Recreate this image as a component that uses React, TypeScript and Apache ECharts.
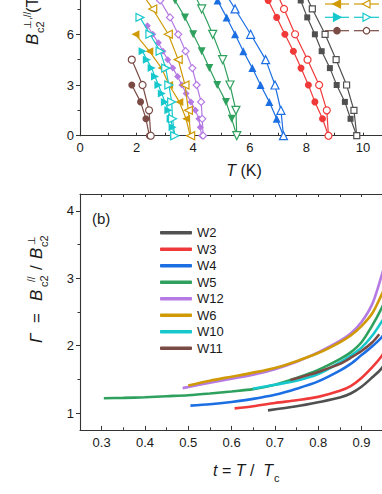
import React, { useEffect, useRef } from 'react';
import * as echarts from 'echarts';

const FONT = "'Liberation Sans', Arial, Helvetica, sans-serif";
const INK = '#1a1a1a';

const C_W2 = '#505050';
const C_W3 = '#f03a3a';
const C_W4 = '#1c6fe3';
const C_W5 = '#2fa15e';
const C_W12 = '#b57ae3';
const C_W6 = '#cf9a06';
const C_W10 = '#16c8cc';
const C_W11 = '#7a4b45';

// ---------- Panel (a): field values (T) ----------
const B_STEP1 = [0, 1, 2, 3, 4, 5, 6, 7, 8, 9];
const B_STEP15 = [0, 1.5, 3, 4.5, 6, 7.5, 9];
const B_STEP05_W12 = [0, 0.5, 1, 1.5, 2, 2.5, 3, 3.5, 4, 4.5, 5, 5.5, 6, 6.5];
const B_W6_PERP = [0, 1, 2, 3, 4, 5, 6];
const B_W10_PERP = [0, 0.5, 1, 1.5, 2, 2.5, 3, 3.5, 4, 4.5, 5];
const B_W10_PARA = [0, 1, 2, 3, 4, 5, 6, 7];
const B_W11_PERP = [0, 1, 2, 3];
const B_W11_PARA = [0, 1.5, 3, 4.5];

// Temperatures (K)
const W2_PERP_T = [9.78, 9.56, 9.36, 9.07, 8.83, 8.54, 8.3, 8.03, 7.8, 7.55];
const W2_PARA_T = [9.78, 9.68, 9.42, 9.05, 8.66, 8.21, 7.78];
const W3_PERP_T = [8.78, 8.57, 8.3, 8.07, 7.81, 7.54, 7.24, 6.95, 6.65, 6.35];
const W3_PARA_T = [8.78, 8.72, 8.45, 8.04, 7.6, 7.21, 6.8];
const W4_PERP_T = [7.19, 6.95, 6.69, 6.38, 6.09, 5.77, 5.48, 5.18, 4.86, 4.55];
const W4_PARA_T = [7.19, 7.1, 6.89, 6.56, 6.03, 5.48, 4.92];
const W5_PERP_T = [5.54, 5.36, 5.16, 4.85, 4.57, 4.3, 4.0, 3.71, 3.36, 3.0];
const W5_PARA_T = [5.54, 5.51, 5.3, 5.04, 4.69, 4.3, 3.85];
const W12_PERP_T = [4.3, 4.25, 4.2, 4.08, 3.92, 3.75, 3.6, 3.45, 3.28, 3.1, 2.93, 2.77, 2.57, 2.38];
const W12_PARA_T = [4.35, 4.32, 4.28, 4.12, 3.97, 3.73, 3.47, 3.18, 2.83, 2.48];
const W6_PERP_T = [3.89, 3.75, 3.51, 3.15, 2.88, 2.45, 1.96];
const W6_PARA_T = [3.91, 3.83, 3.71, 3.47, 3.12, 2.57, 1.95];
const W10_PERP_T = [3.32, 3.27, 3.2, 3.12, 3.0, 2.89, 2.77, 2.65, 2.53, 2.36, 2.21];
const W10_PARA_T = [3.35, 3.27, 3.24, 3.14, 3.03, 2.83, 2.47, 2.12];
const W11_PERP_T = [2.45, 2.33, 2.14, 1.83];
const W11_PARA_T = [2.5, 2.44, 2.21, 1.83];

// ---------- Panel (b): anisotropy Γ vs reduced temperature t ----------
const G_W2 = [[0.684, 1.04], [0.75, 1.1], [0.8, 1.16], [0.85, 1.23], [0.875, 1.29], [0.9, 1.39], [0.925, 1.53], [0.946, 1.66], [0.96, 1.8]];
const G_W3 = [[0.607, 1.07], [0.65, 1.1], [0.7, 1.15], [0.75, 1.19], [0.8, 1.24], [0.85, 1.33], [0.875, 1.4], [0.9, 1.52], [0.925, 1.68], [0.946, 1.84], [0.96, 1.98]];
const G_W4 = [[0.505, 1.11], [0.55, 1.13], [0.6, 1.165], [0.65, 1.21], [0.7, 1.27], [0.75, 1.36], [0.8, 1.47], [0.85, 1.63], [0.875, 1.73], [0.9, 1.86], [0.925, 1.99], [0.946, 2.12], [0.96, 2.25]];
const G_W5 = [[0.305, 1.22], [0.35, 1.225], [0.4, 1.235], [0.45, 1.25], [0.5, 1.265], [0.55, 1.29], [0.6, 1.32], [0.65, 1.355], [0.7, 1.42], [0.75, 1.52], [0.8, 1.64], [0.85, 1.8], [0.875, 1.9], [0.9, 2.05], [0.925, 2.3], [0.946, 2.55], [0.96, 2.75]];
const G_W12 = [[0.487, 1.37], [0.55, 1.45], [0.6, 1.51], [0.65, 1.57], [0.7, 1.65], [0.75, 1.76], [0.8, 1.9], [0.85, 2.07], [0.875, 2.18], [0.9, 2.35], [0.925, 2.62], [0.946, 3.03], [0.96, 3.35]];
const G_W6 = [[0.5, 1.41], [0.55, 1.48], [0.6, 1.54], [0.65, 1.6], [0.7, 1.67], [0.75, 1.77], [0.8, 1.89], [0.85, 2.05], [0.875, 2.15], [0.9, 2.29], [0.925, 2.48], [0.946, 2.75], [0.96, 2.95]];
const G_W10 = [[0.649, 1.36], [0.7, 1.42], [0.75, 1.48], [0.8, 1.58], [0.85, 1.75], [0.875, 1.85], [0.9, 1.97], [0.925, 2.15], [0.946, 2.35], [0.96, 2.5]];
const G_W11 = [[0.736, 1.49], [0.775, 1.56], [0.8, 1.61], [0.85, 1.73], [0.875, 1.82], [0.9, 1.92], [0.925, 2.05], [0.941, 2.17]];

const LEGEND_B = ['W2', 'W3', 'W4', 'W5', 'W12', 'W6', 'W10', 'W11'];

const X_LABELS_B = [0.3, 0.4, 0.5, 0.6, 0.7, 0.8, 0.9];
const X_MAJOR_B = [0.3, 0.4, 0.5, 0.6, 0.7, 0.8, 0.9, 1.0];
const X_MINOR_B = [0.35, 0.45, 0.55, 0.65, 0.75, 0.85, 0.95];
const Y_MAJOR_B = [1, 2, 3, 4];
const Y_MINOR_B = [1.5, 2.5, 3.5];

function topSeries(name: string, T: number[], B: number[], color: string, symbol: string, rotate: number, open: boolean, size: number) {
  return {
    type: 'line',
    name,
    xAxisIndex: 0,
    yAxisIndex: 0,
    data: T.map((t, i) => [t, B[i]]),
    symbol,
    symbolSize: size,
    symbolRotate: rotate,
    showSymbol: true,
    lineStyle: { color, width: 1.2 },
    itemStyle: open ? { color: '#ffffff', borderColor: color, borderWidth: 1.2 } : { color, borderColor: color, borderWidth: 0 },
    z: open ? 3 : 2,
    silent: true,
  };
}

function botSeries(name: string, data: number[][], color: string) {
  return {
    type: 'line',
    name,
    xAxisIndex: 1,
    yAxisIndex: 1,
    data,
    color,
    smooth: 0.3,
    showSymbol: false,
    symbol: 'none',
    lineStyle: { color, width: 2.6 },
    itemStyle: { color },
    silent: true,
  };
}

function marker(shape: string, cx: number, cy: number, color: string, open: boolean) {
  const style = { fill: open ? '#ffffff' : color, stroke: color, lineWidth: 1.2 };
  if (shape === 'circle') return { type: 'circle', shape: { cx, cy, r: 3.2 }, style, z: 10 };
  if (shape === 'left')
    return { type: 'polygon', shape: { points: [[cx - 4, cy], [cx + 3.5, cy - 4], [cx + 3.5, cy + 4]] }, style, z: 10 };
  return { type: 'polygon', shape: { points: [[cx + 4, cy], [cx - 3.5, cy - 4], [cx - 3.5, cy + 4]] }, style, z: 10 };
}

function legendRow(y: number, color: string, shape: string) {
  return [
    { type: 'line', shape: { x1: 325, y1: y, x2: 349, y2: y }, style: { stroke: color, lineWidth: 1.2 }, z: 9 },
    marker(shape, 337, y, color, false),
    { type: 'line', shape: { x1: 354, y1: y, x2: 379, y2: y }, style: { stroke: color, lineWidth: 1.2 }, z: 9 },
    marker(shape, 366.5, y, color, true),
  ];
}

const txt = (text: string, x: number, y: number, size: number, italic = false, extra: any = {}) => ({
  type: 'text',
  x,
  y,
  style: { text, fontSize: size, fontFamily: FONT, fontStyle: italic ? 'italic' : 'normal', fill: INK, align: 'left', verticalAlign: 'middle', ...extra },
});

export default function App() {
  const ref = useRef<HTMLDivElement>(null);
  useEffect(() => {
    document.body.style.margin = '0';
    const chart = echarts.init(ref.current!, null, { renderer: 'svg' });
    const axisLine = { show: true, lineStyle: { color: '#333', width: 1.1 } };
    const labelStyle = { color: INK, fontSize: 13, fontFamily: FONT };

    const option: any = {
      animation: false,
      backgroundColor: '#ffffff',
      grid: [
        { left: 80, top: -16.4, width: 311.3, height: 152.1, outerBoundsMode: 'none', containLabel: false },
        { left: 80, top: 194, width: 324.8, height: 235.9, outerBoundsMode: 'none', containLabel: false },
      ],
      xAxis: [
        {
          type: 'value', gridIndex: 0, min: 0, max: 11, interval: 1, position: 'bottom',
          axisLine, splitLine: { show: false },
          axisTick: { show: true, inside: true, length: 3, lineStyle: { color: '#333' } },
          axisLabel: { ...labelStyle, margin: 5, formatter: (v: number) => (v % 2 === 0 && v <= 10 ? String(v) : '') },
        },
        {
          type: 'value', gridIndex: 1, min: 0.25, max: 1.0, position: 'bottom',
          axisLine, splitLine: { show: false },
          axisTick: { show: true, inside: true, length: 4, customValues: X_MAJOR_B, lineStyle: { color: '#333' } },
          axisLabel: { ...labelStyle, margin: 6, customValues: X_LABELS_B, formatter: (v: number) => v.toFixed(1) },
        },
        {
          type: 'value', gridIndex: 1, min: 0.25, max: 1.0, position: 'bottom',
          axisLine: { show: false }, splitLine: { show: false },
          axisTick: { show: true, inside: true, length: 2.5, customValues: X_MINOR_B, lineStyle: { color: '#333' } },
          axisLabel: { show: false },
        },
        {
          type: 'value', gridIndex: 1, min: 0.25, max: 1.0, position: 'top',
          axisLine, splitLine: { show: false },
          axisTick: { show: true, inside: true, length: 3, customValues: [...X_MAJOR_B, ...X_MINOR_B], lineStyle: { color: '#333' } },
          axisLabel: { show: false },
        },
      ],
      yAxis: [
        {
          type: 'value', gridIndex: 0, min: 0, max: 9, interval: 3, position: 'left',
          axisLine, splitLine: { show: false },
          axisTick: { show: true, inside: false, length: 4, lineStyle: { color: '#333' } },
          minorTick: { show: true, splitNumber: 2, length: 2.5, lineStyle: { color: '#333' } },
          axisLabel: { ...labelStyle, margin: 6, formatter: (v: number) => (v <= 6 ? String(v) : '') },
        },
        {
          type: 'value', gridIndex: 1, min: 0.75, max: 4.25, position: 'left',
          axisLine, splitLine: { show: false },
          axisTick: { show: true, inside: false, length: 4, customValues: Y_MAJOR_B, lineStyle: { color: '#333' } },
          axisLabel: { ...labelStyle, margin: 6, customValues: Y_MAJOR_B },
        },
        {
          type: 'value', gridIndex: 1, min: 0.75, max: 4.25, position: 'left',
          axisLine: { show: false }, splitLine: { show: false },
          axisTick: { show: true, inside: false, length: 2.5, customValues: Y_MINOR_B, lineStyle: { color: '#333' } },
          axisLabel: { show: false },
        },
      ],
      legend: {
        data: LEGEND_B,
        orient: 'vertical',
        left: 160,
        top: 224.4,
        padding: 0,
        itemWidth: 32,
        itemHeight: 3.5,
        icon: 'roundRect',
        itemGap: 0,
        selectedMode: false,
        textStyle: { fontSize: 13, fontFamily: FONT, color: INK, lineHeight: 16.5 },
      },
      series: [
        topSeries('W2 ⊥', W2_PERP_T, B_STEP1, C_W2, 'rect', 0, false, 6),
        topSeries('W2 //', W2_PARA_T, B_STEP15, C_W2, 'rect', 0, true, 6),
        topSeries('W3 ⊥', W3_PERP_T, B_STEP1, C_W3, 'circle', 0, false, 7),
        topSeries('W3 //', W3_PARA_T, B_STEP15, C_W3, 'circle', 0, true, 7),
        topSeries('W4 ⊥', W4_PERP_T, B_STEP1, C_W4, 'triangle', 0, false, 8),
        topSeries('W4 //', W4_PARA_T, B_STEP15, C_W4, 'triangle', 0, true, 8),
        topSeries('W5 ⊥', W5_PERP_T, B_STEP1, C_W5, 'triangle', 180, false, 8),
        topSeries('W5 //', W5_PARA_T, B_STEP15, C_W5, 'triangle', 180, true, 8),
        topSeries('W12 ⊥', W12_PERP_T, B_STEP05_W12, C_W12, 'diamond', 0, false, 7),
        topSeries('W12 //', W12_PARA_T, B_STEP1, C_W12, 'diamond', 0, true, 7),
        topSeries('W6 ⊥', W6_PERP_T, B_W6_PERP, C_W6, 'triangle', 90, false, 8),
        topSeries('W6 //', W6_PARA_T, B_STEP15, C_W6, 'triangle', 90, true, 8),
        topSeries('W10 ⊥', W10_PERP_T, B_W10_PERP, C_W10, 'triangle', -90, false, 8),
        topSeries('W10 //', W10_PARA_T, B_W10_PARA, C_W10, 'triangle', -90, true, 8),
        topSeries('W11 ⊥', W11_PERP_T, B_W11_PERP, C_W11, 'circle', 0, false, 7),
        topSeries('W11 //', W11_PARA_T, B_W11_PARA, C_W11, 'circle', 0, true, 7),
        botSeries('W2', G_W2, C_W2),
        botSeries('W3', G_W3, C_W3),
        botSeries('W4', G_W4, C_W4),
        botSeries('W5', G_W5, C_W5),
        botSeries('W12', G_W12, C_W12),
        botSeries('W6', G_W6, C_W6),
        botSeries('W10', G_W10, C_W10),
        botSeries('W11', G_W11, C_W11),
      ],
      graphic: [
        {
          type: 'group', x: 32, y: 45, rotation: Math.PI / 2,
          children: [
            txt('B', 0, 0, 17, true),
            txt('⊥,//', 16, -5, 10, false),
            txt('c2', 12, 8, 11, false),
            txt('(T)', 32, 0, 17, false),
          ],
        },
        {
          type: 'text', x: 244, y: 170,
          style: {
            text: '{i|T}{n| (K)}', align: 'center', verticalAlign: 'middle',
            rich: { i: { fontSize: 16, fontStyle: 'italic', fontFamily: FONT, fill: INK }, n: { fontSize: 16, fontFamily: FONT, fill: INK } },
          },
        },
        ...legendRow(4, C_W6, 'left'),
        ...legendRow(17.3, C_W10, 'right'),
        ...legendRow(30.7, C_W11, 'circle'),
        txt('(b)', 92, 218.5, 15, false),
        {
          type: 'group', x: 36.5, y: 343, rotation: Math.PI / 2,
          children: [
            txt('Γ', 0, 0, 17, true),
            txt('=', 20, 0, 17, false),
            txt('B', 42, 0, 17, true),
            txt('//', 61, -5, 10, false),
            txt('c2', 56, 7, 11, false),
            txt('/', 73, 0, 17, false),
            txt('B', 84, 0, 17, true),
            txt('⊥', 98, -5, 10, false),
            txt('c2', 96, 7, 11, false),
          ],
        },
        {
          type: 'text', x: 213, y: 470,
          style: {
            text: '{i|t}{n| = }{i|T}{n| /  }{i|T}', align: 'left', verticalAlign: 'middle',
            rich: { i: { fontSize: 16, fontStyle: 'italic', fontFamily: FONT, fill: INK }, n: { fontSize: 16, fontFamily: FONT, fill: INK } },
          },
        },
        txt('c', 274, 478, 11, false),
      ],
    };
    chart.setOption(option);
    return () => chart.dispose();
  }, []);
  return <div ref={ref} style={{ position: 'fixed', left: 0, top: 0, width: 382, height: 494, background: '#fff' }} />;
}
